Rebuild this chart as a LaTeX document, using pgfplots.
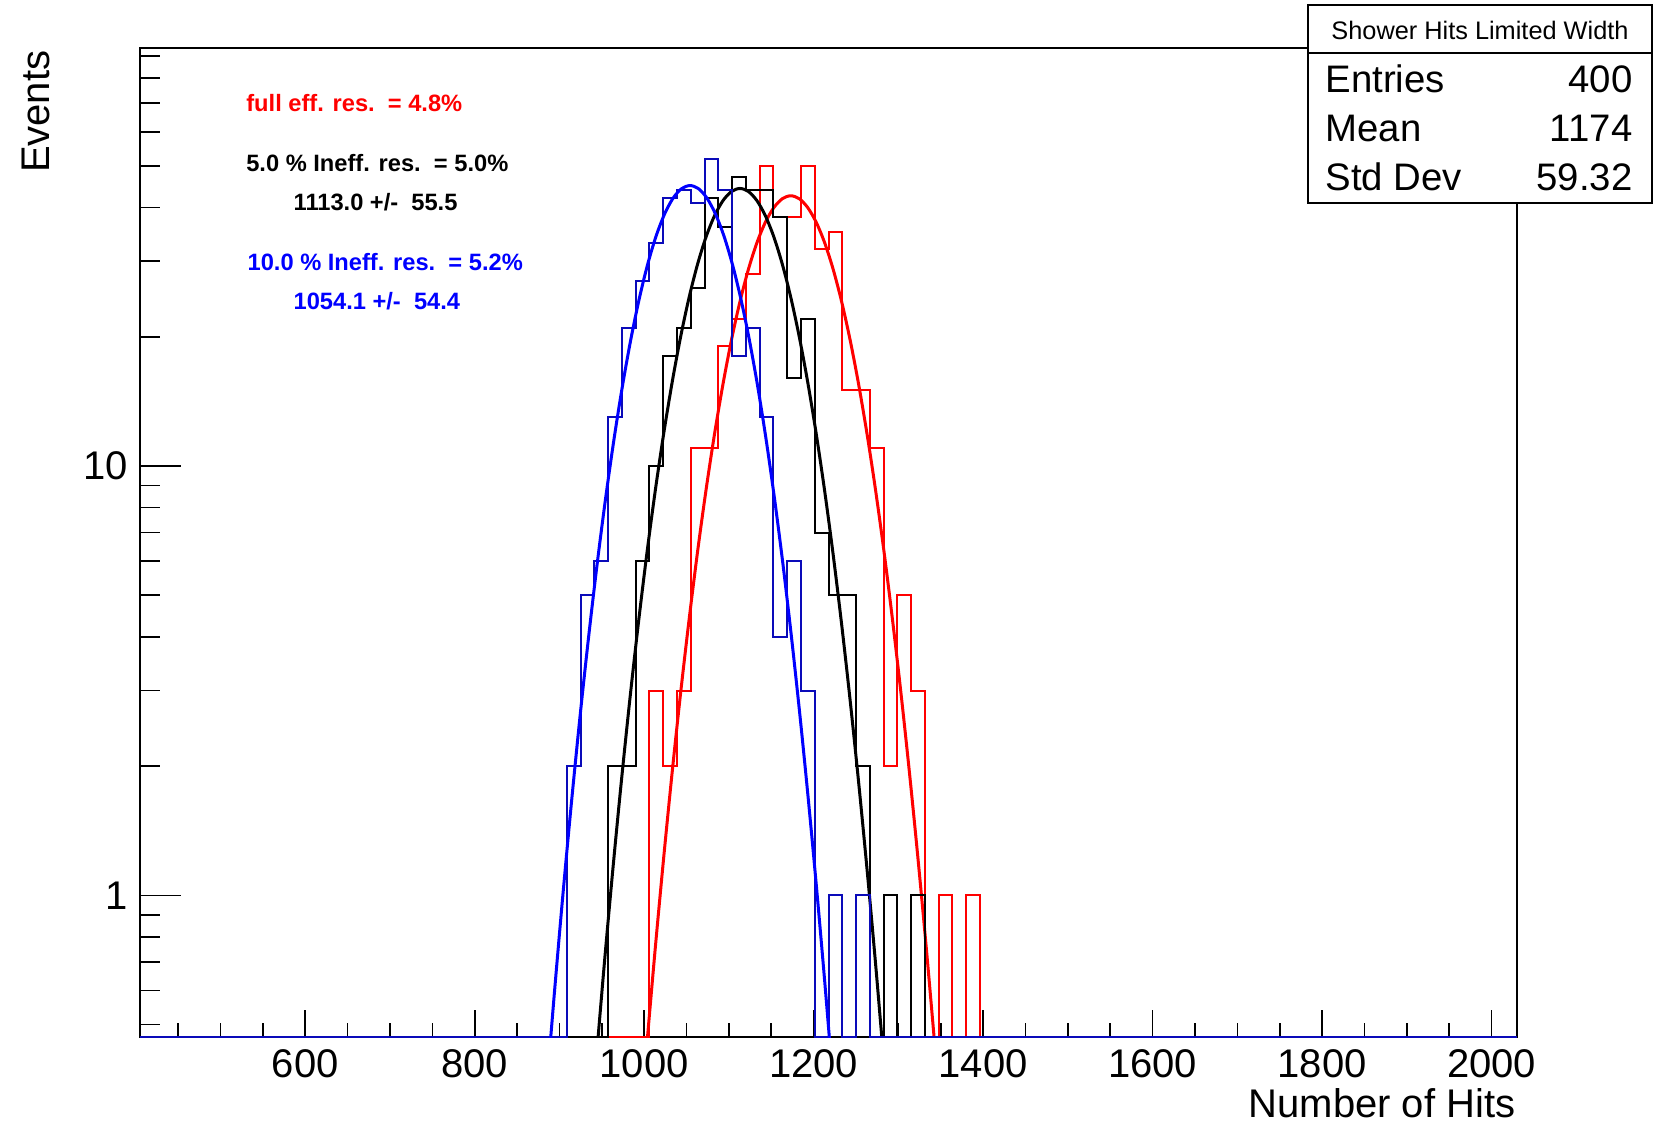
\documentclass[border=0pt]{standalone}
\usepackage{fontspec}
\setmainfont{Liberation Sans}
\usepackage{pgfplots}
\pgfplotsset{compat=1.18}
\definecolor{hblue}{RGB}{10,10,185}
\definecolor{fblue}{RGB}{0,0,255}
\begin{document}
\begin{tikzpicture}
\useasboundingbox (-42pt,-25.95pt) rectangle (453.9pt,311.25pt);
\begin{axis}[
  at={(0pt,0pt)}, anchor=south west,
  width=413.1pt, height=296.85pt, scale only axis,
  xmin=405, xmax=2030,
  ymode=log, ymin=0.4667, ymax=94.1,
  axis line style={line width=0.6pt},
  tick align=inside, tick pos=left,
  xtick={600,800,1000,1200,1400,1600,1800,2000},
  xticklabels={600,800,1000,1200,1400,1600,1800,2000},
  minor xtick={450,500,550,650,700,750,850,900,950,1050,1100,1150,1250,1300,1350,1450,1500,1550,1650,1700,1750,1850,1900,1950},
  ytick={1,10}, yticklabels={1,10},
  minor ytick={0.5,0.6,0.7,0.8,0.9,2,3,4,5,6,7,8,9,20,30,40,50,60,70,80,90},
  tick style={line width=0.5pt, black},
  xtick style={/pgfplots/major tick length=8.4pt,/pgfplots/minor tick length=4.5pt},
  ytick style={/pgfplots/major tick length=12.3pt,/pgfplots/minor tick length=6pt},
  tick label style={font=\fontsize{12}{14}\selectfont},
  /pgf/number format/assume math mode=true,
]
% red histogram
\addplot[red, line width=0.6pt, const plot] coordinates {
(405,0.4667) (1006.25,3) (1022.5,2) (1038.75,3) (1055,11) (1071.25,11) (1087.5,19) (1103.75,22) (1120,28)
(1136.25,50) (1152.5,38) (1168.75,38) (1185,50) (1201.25,32) (1217.5,35) (1233.75,15) (1250,15)
(1266.25,11) (1282.5,2) (1298.75,5) (1315,3) (1331.25,0.4667) (1347.5,1) (1363.75,0.4667) (1380,1)
(1396.25,0.4667) (2030,0.4667)};
\addplot[red, line width=0.9pt, smooth] coordinates {
(1003,0.446) (1013,0.751) (1023,1.224) (1033,1.935) (1043,2.962) (1053,4.39) (1063,6.32) (1073,8.80)
(1083,11.87) (1093,15.52) (1103,19.67) (1113,24.14) (1123,28.72) (1133,33.10) (1143,36.96) (1153,39.99)
(1163,41.93) (1173,42.6) (1183,41.93) (1193,39.99) (1203,36.96) (1213,33.10) (1223,28.72) (1233,24.14)
(1243,19.67) (1253,15.52) (1263,11.87) (1273,8.80) (1283,6.32) (1293,4.39) (1303,2.962) (1313,1.935)
(1323,1.224) (1333,0.751) (1343,0.446)};
% black histogram
\addplot[black, line width=0.6pt, const plot] coordinates {
(405,0.4667) (957.5,2) (973.75,2) (990,6) (1006.25,10) (1022.5,18) (1038.75,21) (1055,26) (1071.25,42)
(1087.5,36) (1103.75,47) (1120,44) (1136.25,44) (1152.5,38) (1168.75,16) (1185,22) (1201.25,7)
(1217.5,5) (1233.75,5) (1250,2) (1266.25,0.4667) (1282.5,1) (1298.75,0.4667) (1315,1) (1331.25,0.4667)
(2030,0.4667)};
\addplot[black, line width=0.9pt, smooth] coordinates {
(943,0.406) (953,0.695) (963,1.149) (973,1.839) (983,2.851) (993,4.28) (1003,6.22) (1013,8.74)
(1023,11.89) (1033,15.67) (1043,20.00) (1053,24.70) (1063,29.52) (1073,34.17) (1083,38.28) (1093,41.51)
(1103,43.59) (1113,44.3) (1123,43.59) (1133,41.51) (1143,38.28) (1153,34.17) (1163,29.52) (1173,24.70)
(1183,20.00) (1193,15.67) (1203,11.89) (1213,8.74) (1223,6.22) (1233,4.28) (1243,2.851) (1253,1.839)
(1263,1.149) (1273,0.695) (1283,0.406)};
% blue histogram
\addplot[hblue, line width=0.6pt, const plot] coordinates {
(405,0.4667) (908.75,2) (925,5) (941.25,6) (957.5,13) (973.75,21) (990,27) (1006.25,33) (1022.5,42)
(1038.75,44) (1055,41) (1071.25,52) (1087.5,44) (1103.75,18) (1120,21) (1136.25,13) (1152.5,4)
(1168.75,6) (1185,3) (1201.25,0.4667) (1217.5,1) (1233.75,0.4667) (1250,1) (1266.25,0.4667)
(2030,0.4667)};
\addplot[fblue, line width=0.9pt, smooth] coordinates {
(884.1,0.341) (894.1,0.595) (904.1,1.005) (914.1,1.641) (924.1,2.59) (934.1,3.95) (944.1,5.83) (954.1,8.31)
(964.1,11.45) (974.1,15.26) (984.1,19.67) (994.1,24.49) (1004.1,29.50) (1014.1,34.34) (1024.1,38.65)
(1034.1,42.06) (1044.1,44.25) (1054.1,45.0) (1064.1,44.25) (1074.1,42.06) (1084.1,38.65) (1094.1,34.34)
(1104.1,29.50) (1114.1,24.49) (1124.1,19.67) (1134.1,15.26) (1144.1,11.45) (1154.1,8.31) (1164.1,5.83)
(1174.1,3.95) (1184.1,2.59) (1194.1,1.641) (1204.1,1.005) (1214.1,0.595) (1224.1,0.341)};
\end{axis}
% axis titles
\node[rotate=90, anchor=base east, inner sep=0pt, font=\fontsize{12}{14}\selectfont] at (-27.15pt,296.25pt) {Events};
\node[anchor=base east, inner sep=0pt, font=\fontsize{12}{14}\selectfont] at (412.8pt,-24.15pt) {Number of Hits};
% annotations
\node[anchor=base west, inner sep=0pt, red, font=\fontsize{7.1}{8}\selectfont\bfseries] at (31.7pt,277.8pt) {full eff. res.\ \ = 4.8\%};
\node[anchor=base west, inner sep=0pt, black, font=\fontsize{7.1}{8}\selectfont\bfseries] at (31.7pt,259.8pt) {5.0 \% Ineff. res.\ \ = 5.0\%};
\node[anchor=base west, inner sep=0pt, black, font=\fontsize{7.1}{8}\selectfont\bfseries] at (45.9pt,248.1pt) {1113.0 +/-\ \ 55.5};
\node[anchor=base west, inner sep=0pt, fblue, font=\fontsize{7.1}{8}\selectfont\bfseries] at (32.1pt,230.1pt) {10.0 \% Ineff. res.\ \ = 5.2\%};
\node[anchor=base west, inner sep=0pt, fblue, font=\fontsize{7.1}{8}\selectfont\bfseries] at (45.9pt,218.25pt) {1054.1 +/-\ \ 54.4};
% stat box
\draw[line width=0.6pt, fill=white] (350.4pt,250.35pt) rectangle (453.6pt,309.75pt);
\draw[line width=0.6pt] (350.4pt,295.35pt) -- (453.6pt,295.35pt);
\node[anchor=base, inner sep=0pt, font=\fontsize{7.6}{9}\selectfont] at (402pt,299.25pt) {Shower Hits Limited Width};
\node[anchor=base west, inner sep=0pt, font=\fontsize{11.5}{13}\selectfont] at (355.5pt,283.5pt) {Entries};
\node[anchor=base east, inner sep=0pt, font=\fontsize{11.5}{13}\selectfont] at (447.9pt,283.5pt) {400};
\node[anchor=base west, inner sep=0pt, font=\fontsize{11.5}{13}\selectfont] at (355.5pt,268.8pt) {Mean};
\node[anchor=base east, inner sep=0pt, font=\fontsize{11.5}{13}\selectfont] at (447.9pt,268.8pt) {1174};
\node[anchor=base west, inner sep=0pt, font=\fontsize{11.5}{13}\selectfont] at (355.5pt,254.1pt) {Std Dev};
\node[anchor=base east, inner sep=0pt, font=\fontsize{11.5}{13}\selectfont] at (447.9pt,254.1pt) {59.32};
\end{tikzpicture}
\end{document}
